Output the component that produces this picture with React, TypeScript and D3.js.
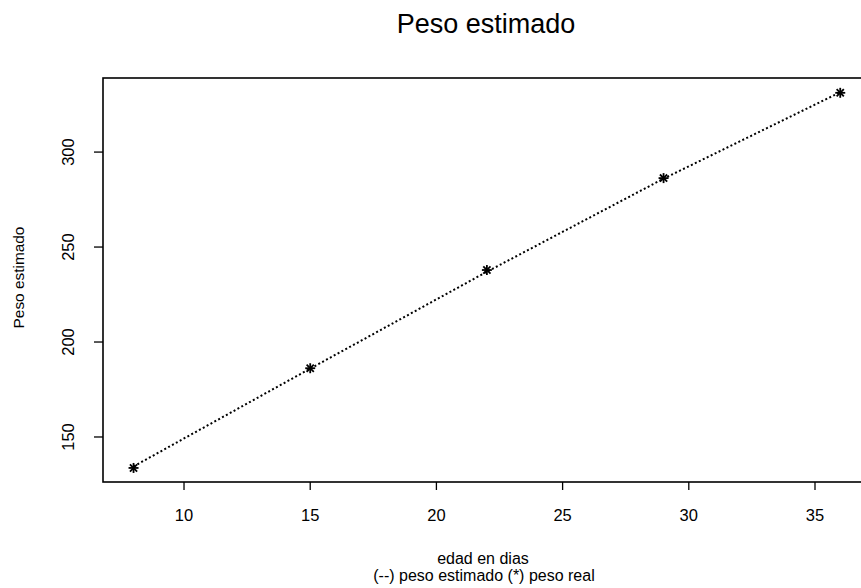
import React from "react";
import * as d3 from "d3";

// Age in days, observed weight and estimated weight
const ages = [8, 15, 22, 29, 36];
const pesoReal = [133.7, 186.2, 237.9, 286.3, 331.2];
const pesoEstimado = [134.5, 186.0, 237.0, 286.0, 331.5];
const xTicks = [10, 15, 20, 25, 30, 35];
const yTicks = [150, 200, 250, 300];

const W = 861;
const H = 588;
const font = "'Liberation Sans', Arial, Helvetica, sans-serif";

export default function App() {
  const x = d3.scaleLinear().domain([6.79, 37.1]).range([103, 868]);
  const y = d3.scaleLinear().domain([126.3, 339]).range([482, 78]);

  const pts: [number, number][] = ages.map((a, i) => [a, pesoEstimado[i]]);
  const line = d3
    .line<[number, number]>()
    .x((d) => x(d[0]))
    .y((d) => y(d[1]));

  const star = (cx: number, cy: number, key: number) => {
    const r = 5;
    const d = r * 0.72;
    return (
      <g key={key} stroke="#000" strokeWidth={1.8}>
        <line x1={cx - r} y1={cy} x2={cx + r} y2={cy} />
        <line x1={cx} y1={cy - r} x2={cx} y2={cy + r} />
        <line x1={cx - d} y1={cy - d} x2={cx + d} y2={cy + d} />
        <line x1={cx - d} y1={cy + d} x2={cx + d} y2={cy - d} />
      </g>
    );
  };

  const [x0, x1] = x.range();
  const [yb, yt] = y.range();

  return (
    <svg
      width={W}
      height={H}
      style={{ position: "absolute", left: 0, top: 0, background: "#fff" }}
      fontFamily={font}
    >
      <rect x={0} y={0} width={W} height={H} fill="#fff" />
      <text x={486} y={33} textAnchor="middle" fontSize={27} fill="#000">
        Peso estimado
      </text>

      {/* plot frame */}
      <rect
        x={x0}
        y={yt}
        width={x1 - x0}
        height={yb - yt}
        fill="none"
        stroke="#000"
        strokeWidth={1.6}
      />

      {/* x axis */}
      {xTicks.map((t) => (
        <g key={t}>
          <line x1={x(t)} x2={x(t)} y1={yb} y2={yb + 8} stroke="#000" strokeWidth={1.3} />
          <text x={x(t)} y={521} textAnchor="middle" fontSize={16.5} fill="#000">
            {t}
          </text>
        </g>
      ))}

      {/* y axis */}
      {yTicks.map((t) => (
        <g key={t}>
          <line x1={x0 - 9} x2={x0} y1={y(t)} y2={y(t)} stroke="#000" strokeWidth={1.3} />
          <text
            transform={`translate(73.5,${y(t)}) rotate(-90)`}
            textAnchor="middle"
            fontSize={16.5}
            fill="#000"
          >
            {t}
          </text>
        </g>
      ))}

      <text
        transform={`translate(24,277.5) rotate(-90)`}
        textAnchor="middle"
        fontSize={15.4}
        fill="#000"
      >
        Peso estimado
      </text>

      <text x={483} y={564} textAnchor="middle" fontSize={16} fill="#000">
        edad en dias
      </text>
      <text x={484} y={581} textAnchor="middle" fontSize={16} fill="#000">
        (--) peso estimado (*) peso real
      </text>

      {/* estimated weight */}
      <path
        d={line(pts) || ""}
        fill="none"
        stroke="#000"
        strokeWidth={2}
        strokeDasharray="2,2.4"
      />

      {/* observed weight */}
      {ages.map((a, i) => star(x(a), y(pesoReal[i]), i))}
    </svg>
  );
}
